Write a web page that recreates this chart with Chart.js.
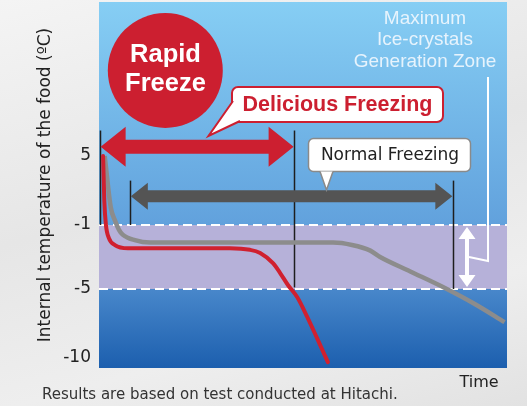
<!DOCTYPE html>
<html>
<head>
<meta charset="utf-8">
<script src="https://cdn.jsdelivr.net/npm/chart.js@4"></script>
<style>
html, body { margin: 0; padding: 0; }
body {
    width: 527px; height: 406px; overflow: hidden;
    background: linear-gradient(165deg, #f4f4f4 0%, #e6e6e6 45%, #eeeeee 75%, #e2e2e2 100%);
}
#wrap { position: relative; width: 527px; height: 406px; }
</style>
</head>
<body>
<div id="wrap"><canvas id="freezeChart"></canvas></div>
<script>
/* Data */
let rapidTime = [1.0, 1.3, 1.7, 2.4, 3.9, 7.1, 24.7, 32.1, 37.0, 39.5, 42.7, 44.4, 46.3, 48.6, 51.0, 53.5, 56.1];
let rapidTemp = [5, 1.1, -1, -1.8, -2.25, -2.45, -2.45, -2.45, -2.55, -2.75, -3.4, -4.0, -4.75, -5.6, -7.0, -8.6, -10.3];

let normalTime = [1.4, 2.9, 3.9, 4.9, 5.8, 8.8, 12.5, 37.0, 57.4, 62.0, 66.5, 68.9, 76.3, 84.9, 92.2, 99.4];
let normalTemp = [5, 0.5, -0.6, -1.3, -1.6, -1.95, -2.1, -2.1, -2.1, -2.25, -2.6, -3.0, -3.9, -4.95, -6.1, -7.4];

let tempTicks = [5, -1, -5, -10];
let zoneBounds = [-1, -5];

/* Y axis is drawn unevenly in the original, so use a piecewise scale */
const yKnots = [[18.3, 0], [5, 0.4208], [-1, 0.6093], [-5, 0.7842], [-10, 0.9727], [-10.72, 1]];

function fracOf(v) {
    for (let i = 0; i < yKnots.length - 1; i++) {
        const [v0, f0] = yKnots[i], [v1, f1] = yKnots[i + 1];
        if ((v <= v0 && v >= v1) || i === yKnots.length - 2) {
            return f0 + (v - v0) / (v1 - v0) * (f1 - f0);
        }
    }
}
function valueOf(f) {
    for (let i = 0; i < yKnots.length - 1; i++) {
        const [v0, f0] = yKnots[i], [v1, f1] = yKnots[i + 1];
        if ((f >= f0 && f <= f1) || i === yKnots.length - 2) {
            return v0 + (f - f0) / (f1 - f0) * (v1 - v0);
        }
    }
}

class BandScale extends Chart.LinearScale {
    getPixelForValue(value) {
        return this.top + fracOf(value) * (this.bottom - this.top);
    }
    getValueForPixel(pixel) {
        return valueOf((pixel - this.top) / (this.bottom - this.top));
    }
}
BandScale.id = 'band';
BandScale.defaults = Chart.LinearScale.defaults;
Chart.register(BandScale);

const RED = '#cc1f30';
const ARIAL = '"Liberation Sans", Arial, Helvetica, sans-serif';
const WIDE = '"DejaVu Sans", "Liberation Sans", sans-serif';

/* Drawing helpers */
function hArrow(ctx, x1, x2, y, shaft, headH, headL, color) {
    ctx.fillStyle = color;
    ctx.beginPath();
    ctx.moveTo(x1, y);
    ctx.lineTo(x1 + headL, y - headH / 2);
    ctx.lineTo(x1 + headL, y - shaft / 2);
    ctx.lineTo(x2 - headL, y - shaft / 2);
    ctx.lineTo(x2 - headL, y - headH / 2);
    ctx.lineTo(x2, y);
    ctx.lineTo(x2 - headL, y + headH / 2);
    ctx.lineTo(x2 - headL, y + shaft / 2);
    ctx.lineTo(x1 + headL, y + shaft / 2);
    ctx.lineTo(x1 + headL, y + headH / 2);
    ctx.closePath();
    ctx.fill();
}

function vArrow(ctx, x, y1, y2, shaft, headW, headL, color) {
    ctx.fillStyle = color;
    ctx.beginPath();
    ctx.moveTo(x, y1);
    ctx.lineTo(x + headW / 2, y1 + headL);
    ctx.lineTo(x + shaft / 2, y1 + headL);
    ctx.lineTo(x + shaft / 2, y2 - headL);
    ctx.lineTo(x + headW / 2, y2 - headL);
    ctx.lineTo(x, y2);
    ctx.lineTo(x - headW / 2, y2 - headL);
    ctx.lineTo(x - shaft / 2, y2 - headL);
    ctx.lineTo(x - shaft / 2, y1 + headL);
    ctx.lineTo(x - headW / 2, y1 + headL);
    ctx.closePath();
    ctx.fill();
}

function callout(ctx, box, tail, stroke, lw) {
    ctx.fillStyle = '#fff';
    ctx.strokeStyle = stroke;
    ctx.lineWidth = lw;
    ctx.beginPath();
    ctx.roundRect(box.x, box.y, box.w, box.h, box.r);
    ctx.fill();
    ctx.stroke();
    ctx.beginPath();
    ctx.moveTo(tail[0][0], tail[0][1]);
    ctx.lineTo(tail[1][0], tail[1][1]);
    ctx.lineTo(tail[2][0], tail[2][1]);
    ctx.closePath();
    ctx.fill();
    ctx.beginPath();
    ctx.moveTo(tail[0][0], tail[0][1]);
    ctx.lineTo(tail[1][0], tail[1][1]);
    ctx.lineTo(tail[2][0], tail[2][1]);
    ctx.stroke();
}

/* Background, zone, markers, labels */
const scenery = {
    id: 'scenery',
    beforeDatasetsDraw(chart) {
        const { ctx, chartArea: a, scales: { x, y } } = chart;
        ctx.save();
        const g = ctx.createLinearGradient(0, a.top, 0, a.bottom);
        g.addColorStop(0, '#86cef4');
        g.addColorStop(0.6, '#62a2dd');
        g.addColorStop(0.79, '#4786ca');
        g.addColorStop(1, '#1c5fae');
        ctx.fillStyle = g;
        ctx.fillRect(a.left, a.top, a.right - a.left, a.bottom - a.top);

        const zTop = y.getPixelForValue(zoneBounds[0]);
        const zBot = y.getPixelForValue(zoneBounds[1]);
        ctx.fillStyle = '#b6b1d9';
        ctx.fillRect(a.left, zTop, a.right - a.left, zBot - zTop);

        ctx.strokeStyle = '#ffffff';
        ctx.lineWidth = 2;
        ctx.setLineDash([9, 5]);
        [zTop, zBot].forEach(py => {
            ctx.beginPath();
            ctx.moveTo(a.left, py);
            ctx.lineTo(a.right, py);
            ctx.stroke();
        });
        ctx.setLineDash([]);

        // start / end markers
        const marks = [[0.15, 7.2, -1], [7.7, 2.86, -1], [47.9, 7.2, -4.9], [86.8, 2.86, -5]];
        ctx.strokeStyle = '#1e1e1e';
        ctx.lineWidth = 1.5;
        marks.forEach(([t, top, bot]) => {
            const px = Math.round(x.getPixelForValue(t)) + 0.5;
            ctx.beginPath();
            ctx.moveTo(px, y.getPixelForValue(top));
            ctx.lineTo(px, y.getPixelForValue(bot));
            ctx.stroke();
        });
        ctx.restore();
    },
    afterDatasetsDraw(chart) {
        const { ctx, scales: { x, y } } = chart;
        ctx.save();

        // double arrows
        hArrow(ctx, x.getPixelForValue(0.4), x.getPixelForValue(47.7), y.getPixelForValue(5.8), 14, 40, 25, RED);
        hArrow(ctx, x.getPixelForValue(7.8), x.getPixelForValue(86.6), y.getPixelForValue(1.5), 12, 27, 17, '#545454');

        // zone arrow and bracket
        vArrow(ctx, 467, y.getPixelForValue(-1) + 2, y.getPixelForValue(-5) - 2, 4, 17, 12, '#ffffff');
        ctx.strokeStyle = '#ffffff';
        ctx.lineWidth = 2;
        ctx.beginPath();
        ctx.moveTo(488, 77);
        ctx.lineTo(488, 261);
        ctx.lineTo(469, 257);
        ctx.stroke();

        ctx.fillStyle = 'rgba(236,246,253,0.95)';
        ctx.font = '19px ' + ARIAL;
        ctx.textAlign = 'center';
        ctx.textBaseline = 'middle';
        ctx.fillText('Maximum', 425, 19);
        ctx.fillText('Ice-crystals', 425, 40);
        ctx.fillText('Generation Zone', 425, 62);

        // rapid freeze badge
        ctx.fillStyle = RED;
        ctx.beginPath();
        ctx.arc(165.3, 70.5, 57.5, 0, Math.PI * 2);
        ctx.fill();
        ctx.fillStyle = '#ffffff';
        ctx.font = 'bold 25.5px ' + ARIAL;
        ctx.fillText('Rapid', 165.5, 55);
        ctx.fillText('Freeze', 165.5, 84);

        // callouts
        callout(ctx, { x: 232, y: 87, w: 211, h: 35, r: 6 },
            [[233, 101], [208.5, 136], [240, 121]], RED, 2);
        ctx.fillStyle = RED;
        ctx.font = 'bold 21.5px ' + ARIAL;
        ctx.fillText('Delicious Freezing', 337.5, 105);

        callout(ctx, { x: 308.5, y: 138.5, w: 162, h: 33, r: 5 },
            [[320, 171.5], [326.5, 190], [333, 171.5]], '#8a8a8a', 1.5);
        ctx.fillStyle = '#222222';
        ctx.font = '17px ' + WIDE;
        ctx.fillText('Normal Freezing', 390, 156);
        ctx.restore();
    },
    afterDraw(chart) {
        const { ctx } = chart;
        ctx.save();
        ctx.textBaseline = 'middle';
        ctx.fillStyle = '#222222';
        ctx.font = '16px ' + WIDE;
        ctx.textAlign = 'center';
        ctx.fillText('Time', 479, 383);
        ctx.fillStyle = '#333333';
        ctx.font = '15px ' + WIDE;
        ctx.textAlign = 'left';
        ctx.fillText('Results are based on test conducted at Hitachi.', 42, 395);
        ctx.restore();
    }
};

/* Chart */
new Chart('freezeChart', {
    type: 'line',
    data: {
        datasets: [{
            label: 'Rapid Freeze',
            data: rapidTime.map((t, i) => ({ x: t, y: rapidTemp[i] })),
            borderColor: '#d0202f',
            borderWidth: 4,
            pointRadius: 0,
            cubicInterpolationMode: 'monotone',
            borderCapStyle: 'round',
            order: 1
        }, {
            label: 'Normal Freezing',
            data: normalTime.map((t, i) => ({ x: t, y: normalTemp[i] })),
            borderColor: '#8c8c8c',
            borderWidth: 4.5,
            pointRadius: 0,
            cubicInterpolationMode: 'monotone',
            order: 2
        }]
    },
    options: {
        responsive: true,
        maintainAspectRatio: false,
        animation: false,
        clip: false,
        layout: { padding: { left: 0, right: 20, top: 2, bottom: 38 } },
        plugins: {
            legend: { display: false },
            tooltip: { enabled: false }
        },
        scales: {
            x: {
                type: 'linear',
                min: 0,
                max: 100,
                display: false
            },
            y: {
                type: 'band',
                min: -10.72,
                max: 18.3,
                grid: { display: false, drawTicks: false },
                border: { display: false },
                afterBuildTicks(scale) {
                    scale.ticks = tempTicks.map(v => ({ value: v }));
                },
                afterFit(scale) {
                    scale.width = 99;
                    scale.paddingTop = 0;
                    scale.paddingBottom = 0;
                },
                ticks: {
                    autoSkip: false,
                    padding: 8,
                    color: '#222222',
                    font: { family: WIDE, size: 17 },
                    callback: v => String(v)
                },
                title: {
                    display: true,
                    text: 'Internal temperature of the food (ºC)',
                    color: '#222222',
                    font: { family: WIDE, size: 17 },
                    padding: { top: 35, bottom: 0 }
                }
            }
        }
    },
    plugins: [scenery]
});
</script>
</body>
</html>
